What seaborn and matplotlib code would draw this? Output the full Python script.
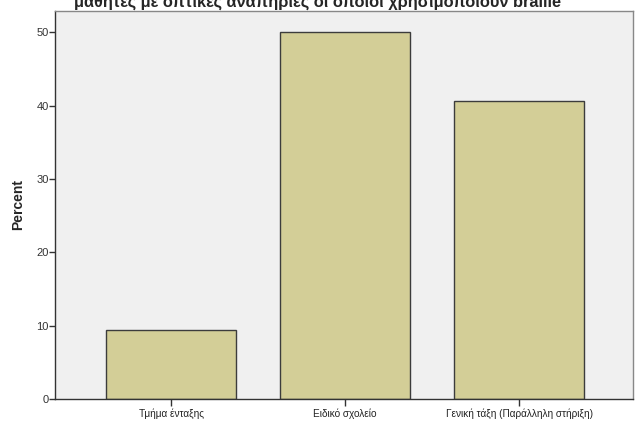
import matplotlib
matplotlib.use('Agg')
import matplotlib.pyplot as plt
import seaborn as sns
import pandas as pd

categories = ['Τμήμα ένταξης', 'Ειδικό σχολείο', 'Γενική τάξη (Παράλληλη στήριξη)']
percents = [9.4, 50.0, 40.6]
title = 'μαθητές με οπτικές αναπηρίες οι οποίοι χρησιμοποιούν braille'

df = pd.DataFrame({'category': categories, 'percent': percents})

sns.set_style('white')
plt.rcParams['font.family'] = ['Liberation Sans', 'DejaVu Sans']

fig = plt.figure(figsize=(6.35, 4.21), dpi=100)
ax = fig.add_axes([0.0874, 0.0523, 0.9096, 0.9216])
ax.set_facecolor('#f0f0f0')

sns.barplot(data=df, x='category', y='percent', color='#d3ce97',
            saturation=1, width=0.75, edgecolor='#3c3c3c', linewidth=1, ax=ax)

ax.set_xlim(-0.664, 2.655)
ax.set_ylim(0, 52.9)
ax.set_yticks([0, 10, 20, 30, 40, 50])
ax.set_xlabel('')
ax.set_ylabel('Percent', fontsize=10, fontweight='bold', labelpad=8)
ax.tick_params(axis='y', labelsize=8, labelcolor='#333333', length=4,
               width=1, color='#333333', left=True, direction='out', pad=1)
ax.tick_params(axis='x', labelsize=7.2, labelcolor='#222222', length=5,
               width=1, color='#333333', bottom=True, direction='out', pad=2)

for side in ['left', 'bottom']:
    ax.spines[side].set_color('#333333')
    ax.spines[side].set_linewidth(1)
for side in ['top', 'right']:
    ax.spines[side].set_visible(True)
    ax.spines[side].set_color('#888888')
    ax.spines[side].set_linewidth(1)

fig.text(0.5, 0.995, title, ha='center', va='center',
         fontsize=11.8, fontweight='bold')

fig.savefig('out.png', dpi=100)
